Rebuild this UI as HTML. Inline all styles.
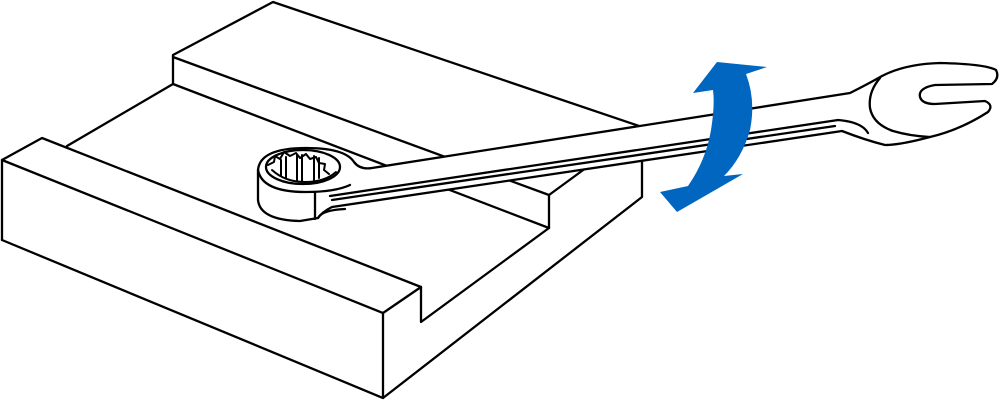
<!DOCTYPE html>
<html><head><style>html,body{margin:0;padding:0;background:#fff}svg{display:block}</style></head>
<body>
<svg width="1000" height="401" viewBox="0 0 1000 401" xmlns="http://www.w3.org/2000/svg">
<g fill="none" stroke="#000" stroke-width="2.3" stroke-linejoin="round" stroke-linecap="round">
<polyline points="2,240 2,160 42,138 421,287 421,322 549,228 549,195"/>
<polyline points="2,160 383,313 421,287"/>
<line x1="383" y1="313" x2="383" y2="398"/>
<polyline points="2,240 383,398 642,197 642,127 273,2 173,55 173,84 67,146"/>
<line x1="173" y1="57" x2="549" y2="195"/>
<line x1="173" y1="84" x2="549" y2="228"/>
<line x1="549" y1="195" x2="642" y2="127"/>
</g>
<g stroke="#000" stroke-width="2.3" stroke-linejoin="round" fill="#fff">
<path d="M372,168 L850,93 Q868,84 882,76 Q905,64 940,63 Q985,64 996,70 Q1000,78 992,84 L935,85 Q918,88 920,97 Q922,104 935,104 L985,101 Q994,105 988,112 Q960,130 930,137 Q900,145 885,145 Q865,140 842,131 L332,207 Q322,212 318,218 L300,221 Q260,220 258,200 L258,170 Q260,148 306,148 Q345,148 354,162 Q360,170 372,168 Z"/>
</g>
<g fill="none" stroke="#000" stroke-width="2.3" stroke-linejoin="round" stroke-linecap="round">
<path d="M258,170 Q262,192 306,192 Q335,192 350,185"/>
<line x1="315" y1="192" x2="315" y2="219"/>
<ellipse cx="303" cy="167" rx="37" ry="17"/>
<path d="M330,196 L838,120 Q862,122 868,133"/>
<path d="M332,200 L835,126"/>
<path d="M880,78 Q868,92 870,108 Q873,124 893,131 Q910,136 930,137"/>
<path d="M318,218 Q322,210 345,209"/>
<g stroke-width="2">
<path d="M268,165 l6,-3 l1,-6 l5,3 l4,-7 l6,4 l6,-3 l4,5 l6,-4 l4,5 l6,-2 l3,6 l6,1 l-1,6 l5,4"/>
<path d="M272,170 Q285,182 305,182 Q325,182 336,172"/>
<line x1="281" y1="160" x2="281" y2="176"/>
<line x1="286" y1="157" x2="286" y2="178"/>
<line x1="297" y1="155" x2="297" y2="180"/>
<line x1="302" y1="155" x2="302" y2="181"/>
<line x1="314" y1="156" x2="314" y2="180"/>
<line x1="319" y1="158" x2="319" y2="178"/>
</g>
</g>
<path fill="#0066c0" d="M693,93 L717,62 L767,67 L746,74 Q756,100 750,130 Q742,158 724,176 L743,174 L677,212 L660,192 L688,186 Q706,160 711,130 Q715,105 713,90 Z"/>
</svg>
</body></html>
